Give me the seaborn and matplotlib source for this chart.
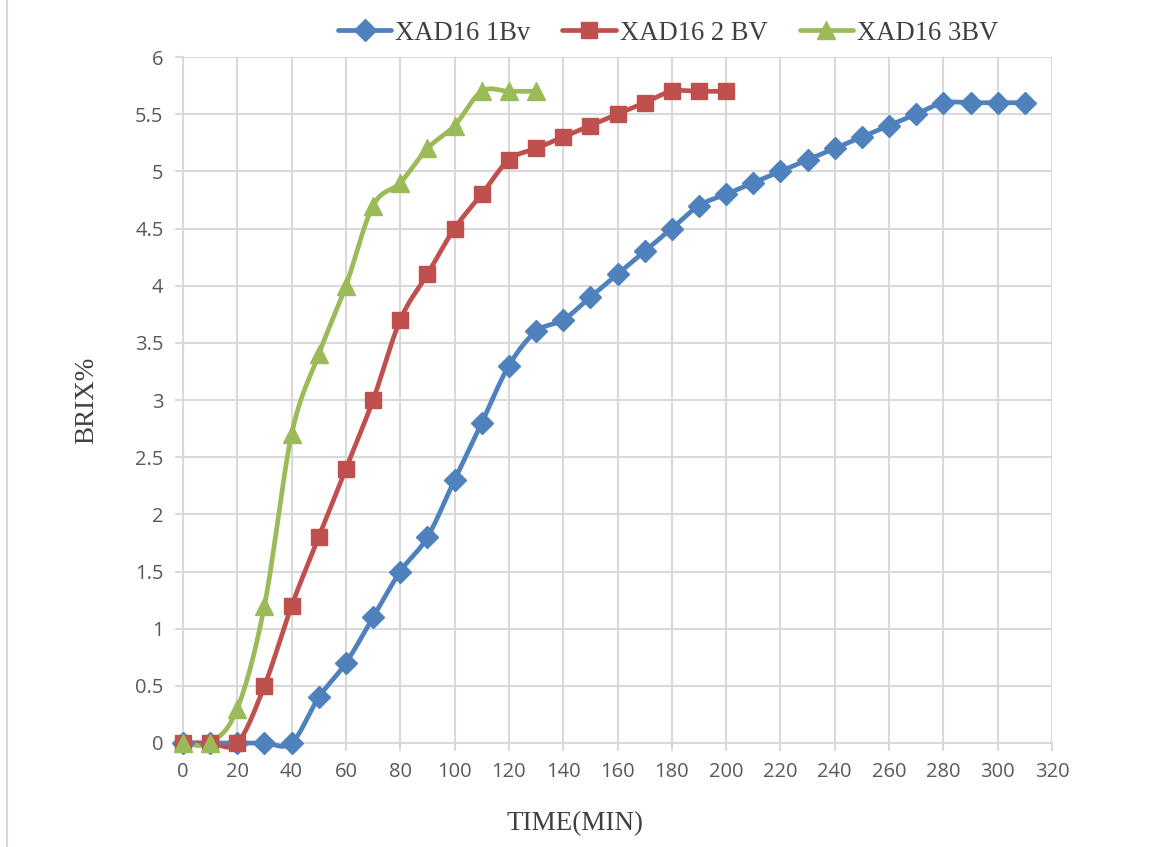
import numpy as np
import pandas as pd
import matplotlib
matplotlib.use("Agg")
import matplotlib.pyplot as plt
from matplotlib.lines import Line2D
import seaborn as sns

# ---- data ----
time_1bv = list(range(0, 320, 10))
brix_1bv = [0, 0, 0, 0, 0, 0.4, 0.7, 1.1, 1.5, 1.8, 2.3, 2.8, 3.3, 3.6, 3.7, 3.9,
            4.1, 4.3, 4.5, 4.7, 4.8, 4.9, 5.0, 5.1, 5.2, 5.3, 5.4, 5.5, 5.6, 5.6, 5.6, 5.6]
time_2bv = list(range(0, 210, 10))
brix_2bv = [0, 0, 0, 0.5, 1.2, 1.8, 2.4, 3.0, 3.7, 4.1, 4.5, 4.8, 5.1, 5.2, 5.3, 5.4,
            5.5, 5.6, 5.7, 5.7, 5.7]
time_3bv = list(range(0, 140, 10))
brix_3bv = [0, 0, 0.3, 1.2, 2.7, 3.4, 4.0, 4.7, 4.9, 5.2, 5.4, 5.7, 5.7, 5.7]

series_names = ["XAD16 1Bv", "XAD16 2 BV", "XAD16 3BV"]
colors = ["#4F81BD", "#C0504D", "#9BBB59"]
markers = ["D", "s", "^"]
msizes = [11.5, 12, 12.5]

x_ticks = list(range(0, 340, 20))
y_ticks = [0, 0.5, 1, 1.5, 2, 2.5, 3, 3.5, 4, 4.5, 5, 5.5, 6]


def smooth(x, y, n=24):
    """Bezier smoothing similar to Excel's smoothed lines."""
    x = np.asarray(x, float)
    y = np.asarray(y, float)
    xs, ys = [], []
    N = len(x)
    for i in range(N - 1):
        p0 = (x[i - 1], y[i - 1]) if i > 0 else (x[i], y[i])
        p1 = (x[i], y[i])
        p2 = (x[i + 1], y[i + 1])
        p3 = (x[i + 2], y[i + 2]) if i + 2 < N else (x[i + 1], y[i + 1])
        c1 = (p1[0] + (p2[0] - p0[0]) / 6, p1[1] + (p2[1] - p0[1]) / 6)
        c2 = (p2[0] - (p3[0] - p1[0]) / 6, p2[1] - (p3[1] - p1[1]) / 6)
        t = np.linspace(0, 1, n, endpoint=(i == N - 2))
        bx = (1 - t) ** 3 * p1[0] + 3 * (1 - t) ** 2 * t * c1[0] + 3 * (1 - t) * t ** 2 * c2[0] + t ** 3 * p2[0]
        by = (1 - t) ** 3 * p1[1] + 3 * (1 - t) ** 2 * t * c1[1] + 3 * (1 - t) * t ** 2 * c2[1] + t ** 3 * p2[1]
        xs.extend(bx)
        ys.extend(by)
    return np.array(xs), np.array(ys)


sns.set_theme(style="white")
plt.rcParams["font.family"] = ["Open Sans", "DejaVu Sans"]

fig = plt.figure(figsize=(11.7, 8.47), dpi=100)
ax = fig.add_axes([183 / 1170, 1 - 743 / 847, (1052 - 183) / 1170, (743 - 57) / 847])

data = [(time_1bv, brix_1bv), (time_2bv, brix_2bv), (time_3bv, brix_3bv)]
handles = []
for (tx, by), name, c, m, ms in zip(data, series_names, colors, markers, msizes):
    sx, sy = smooth(tx, by)
    df = pd.DataFrame({"t": sx, "b": sy})
    sns.lineplot(data=df, x="t", y="b", sort=False, color=c, linewidth=3.4,
                 ax=ax, clip_on=False, zorder=3)
    ax.plot(tx, by, linestyle="none", marker=m, markersize=ms, color=c,
            markeredgecolor=c, clip_on=False, zorder=4)
    handles.append(Line2D([0], [0], color=c, linewidth=3.4, marker=m, markersize=ms,
                          markeredgecolor=c))

ax.set_xlim(0, 320)
ax.set_ylim(0, 6)
ax.set_xticks(x_ticks)
ax.set_yticks(y_ticks)
ax.set_xticklabels([str(v) for v in x_ticks])
ax.set_yticklabels([f"{v:g}" for v in y_ticks])
ax.grid(True, color="#D9D9D9", linewidth=1.5)
ax.set_axisbelow(True)
for s in ["top", "right"]:
    ax.spines[s].set_visible(False)
for s in ["left", "bottom"]:
    ax.spines[s].set_color("#D9D9D9")
    ax.spines[s].set_linewidth(1.5)
ax.tick_params(axis="both", which="both", direction="out", length=6, width=1.5,
               color="#D9D9D9", labelcolor="#595959", labelsize=14.5, pad=8,
               left=True, bottom=True)

serif = ["Liberation Serif", "DejaVu Serif"]
ax.set_xlabel("TIME(MIN)", family=serif, fontsize=19.5, color="#404040")
ax.set_ylabel("BRIX%", family=serif, fontsize=19.5, color="#404040")
ax.xaxis.set_label_coords((575 - 183) / (1052 - 183), -(811 - 743) / (743 - 57))
ax.yaxis.set_label_coords(-(183 - 99) / (1052 - 183), (743 - 400) / (743 - 57))

fig.legend(handles, series_names, loc="center", bbox_to_anchor=(668 / 1170, 1 - 33 / 847),
           ncol=3, frameon=False, prop={"family": serif, "size": 19.2},
           labelcolor="#404040", handlelength=2.0, handletextpad=0.15, columnspacing=1.2)

# left figure border line
fig.add_artist(Line2D([7 / 1170, 7 / 1170], [0, 1], color="#D9D9D9", linewidth=1.5))

fig.savefig("out.png", dpi=100, facecolor="white")
